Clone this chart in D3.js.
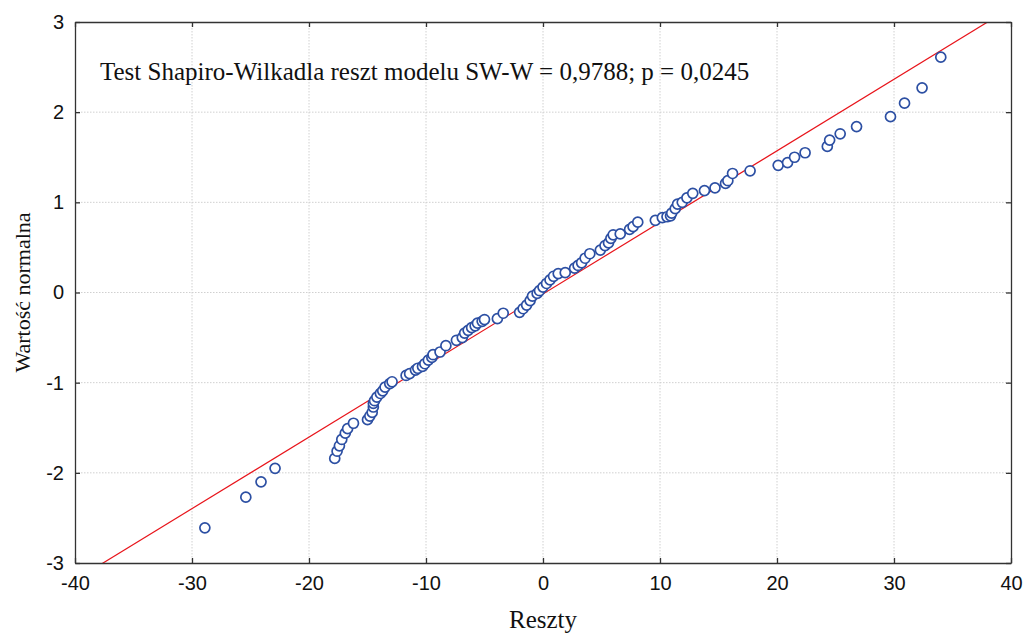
<!DOCTYPE html>
<meta charset="utf-8">
<style>
body { margin: 0; background: #fff; }
.grid line { stroke: #d0d0d0; stroke-dasharray: 1.5,1.5; stroke-width: 1px; }
.axis text { font-family: "Liberation Sans", Arial, sans-serif; font-size: 20px; fill: #111; }
.axis path, .axis line { stroke: #333; stroke-width: 1.3px; }
.pts circle { fill: #fff; stroke: #2c4fa3; stroke-width: 1.7px; }
.fit { stroke: #e8141b; stroke-width: 1.2px; fill: none; }
.lbl { font-family: "Liberation Serif", "Times New Roman", serif; font-size: 25px; fill: #111; }
</style>
<body>
<svg width="1028" height="633"></svg>
<script src="https://d3js.org/d3.v7.min.js"></script>
<script>

// residuals (x) and expected normal values (z)
var resid = [-28.9, -25.4, -24.1, -22.9, -17.8, -17.6, -17.4, -17.2, -16.9, -16.7,
  -16.2, -15.0, -14.8, -14.6, -14.5, -14.5, -14.4, -14.2, -13.9, -13.7,
  -13.5, -13.1, -12.9, -11.7, -11.4, -10.9, -10.7, -10.3, -10.1, -9.8,
  -9.5, -9.4, -8.8, -8.3, -7.4, -6.9, -6.7, -6.4, -6.1, -5.8,
  -5.6, -5.2, -5.0, -3.9, -3.4, -2.0, -1.7, -1.4, -1.1, -0.9,
  -0.5, -0.3, 0.0, 0.3, 0.6, 0.9, 1.3, 1.9, 2.7, 3.0,
  3.3, 3.6, 4.0, 4.9, 5.3, 5.6, 5.8, 6.0, 6.6, 7.4,
  7.7, 8.1, 9.6, 10.2, 10.6, 10.9, 11.0, 11.3, 11.5, 11.9,
  12.3, 12.8, 13.8, 14.7, 15.6, 15.8, 16.2, 17.7, 20.1, 20.9,
  21.5, 22.4, 24.3, 24.5, 25.4, 26.8, 29.7, 30.9, 32.4, 34.0];
var normVal = [-2.61, -2.27, -2.10, -1.95, -1.84, -1.76, -1.70, -1.63, -1.56, -1.51,
  -1.45, -1.41, -1.37, -1.33, -1.27, -1.23, -1.20, -1.16, -1.12, -1.09,
  -1.05, -1.01, -0.99, -0.92, -0.90, -0.86, -0.84, -0.82, -0.79, -0.75,
  -0.72, -0.69, -0.66, -0.59, -0.53, -0.50, -0.45, -0.42, -0.39, -0.37,
  -0.34, -0.32, -0.30, -0.29, -0.23, -0.22, -0.18, -0.14, -0.09, -0.04,
  -0.01, 0.02, 0.06, 0.10, 0.14, 0.18, 0.21, 0.22, 0.27, 0.30,
  0.33, 0.38, 0.43, 0.47, 0.52, 0.55, 0.60, 0.64, 0.65, 0.70,
  0.73, 0.78, 0.80, 0.83, 0.84, 0.85, 0.88, 0.93, 0.98, 1.00,
  1.05, 1.10, 1.13, 1.16, 1.21, 1.24, 1.32, 1.35, 1.41, 1.44,
  1.50, 1.55, 1.62, 1.69, 1.76, 1.84, 1.95, 2.10, 2.27, 2.61];

// reference line: resid = lineMean + lineSd * z
var lineMean = 0.2, lineSd = 12.6;

var xTicks = [-40, -30, -20, -10, 0, 10, 20, 30, 40];
var yTicks = [-3, -2, -1, 0, 1, 2, 3];
var statText = "Test Shapiro-Wilkadla reszt modelu SW-W = 0,9788; p = 0,0245";

var margin = {top: 22, right: 17, bottom: 70, left: 75},
    width = 1028 - margin.left - margin.right,
    height = 633 - margin.top - margin.bottom;

var svg = d3.select("svg");
var g = svg.append("g")
    .attr("transform", "translate(" + margin.left + "," + margin.top + ")");

var x = d3.scaleLinear().domain([-40, 40]).range([0, width]);
var y = d3.scaleLinear().domain([-3, 3]).range([height, 0]);

// plain hyphen for negatives, as in the original
var fmt = function(d) { return String(d); };

// grid
var grid = g.append("g").attr("class", "grid");
grid.selectAll(".gx").data(xTicks.slice(1, -1)).enter().append("line")
    .attr("x1", function(d) { return x(d); }).attr("x2", function(d) { return x(d); })
    .attr("y1", 0).attr("y2", height);
grid.selectAll(".gy").data(yTicks.slice(1, -1)).enter().append("line")
    .attr("y1", function(d) { return y(d); }).attr("y2", function(d) { return y(d); })
    .attr("x1", 0).attr("x2", width);

// clip for the fitted line
svg.append("defs").append("clipPath").attr("id", "clip")
  .append("rect").attr("width", width).attr("height", height);

var fit = d3.line()
    .x(function(z) { return x(lineMean + lineSd * z); })
    .y(function(z) { return y(z); });
g.append("path")
    .datum([-3.2, 3.2])
    .attr("class", "fit")
    .attr("clip-path", "url(#clip)")
    .attr("d", fit);

// points
var pts = resid.map(function(r, i) { return {r: r, z: normVal[i]}; });
g.append("g").attr("class", "pts")
  .selectAll("circle").data(pts).enter().append("circle")
    .attr("r", 5)
    .attr("cx", function(d) { return x(d.r); })
    .attr("cy", function(d) { return y(d.z); });

// axes (ticks pointing inward)
g.append("g").attr("class", "axis")
    .attr("transform", "translate(0," + height + ")")
    .call(d3.axisBottom(x).tickValues(xTicks).tickFormat(fmt).tickSizeInner(-5).tickSizeOuter(0).tickPadding(13));
g.append("g").attr("class", "axis")
    .call(d3.axisLeft(y).tickValues(yTicks).tickFormat(fmt).tickSizeInner(-5).tickSizeOuter(0).tickPadding(11));
g.append("g").attr("class", "axis")
    .call(d3.axisTop(x).tickValues(xTicks).tickSizeInner(-5).tickSizeOuter(0).tickFormat(""));
g.append("g").attr("class", "axis")
    .attr("transform", "translate(" + width + ",0)")
    .call(d3.axisRight(y).tickValues(yTicks).tickSizeInner(-5).tickSizeOuter(0).tickFormat(""));

// labels
g.append("text").attr("class", "lbl")
    .attr("x", 25).attr("y", 58)
    .text(statText);

svg.append("text").attr("class", "lbl")
    .attr("x", margin.left + width / 2).attr("y", 628)
    .attr("text-anchor", "middle")
    .text("Reszty");

svg.append("text").attr("class", "lbl")
    .style("font-size", "22px")
    .attr("transform", "translate(30," + (margin.top + height / 2) + ") rotate(-90)")
    .attr("text-anchor", "middle")
    .text("Wartość normalna");

</script>
</body>
